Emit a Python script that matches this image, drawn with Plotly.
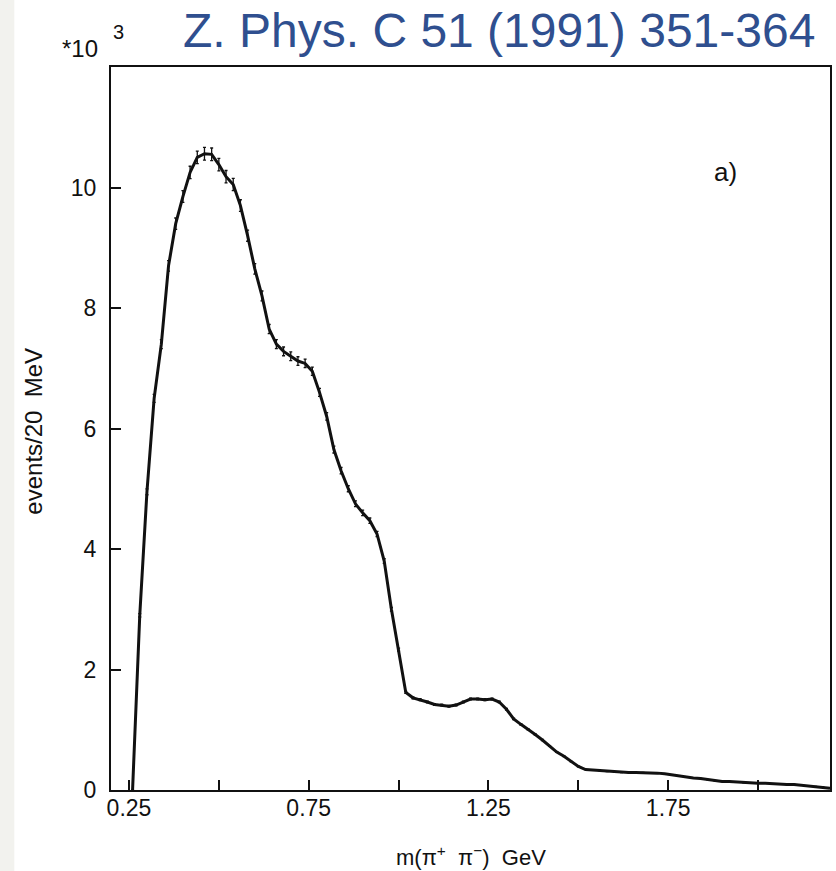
import plotly.graph_objects as go

# bin centres (GeV), 20 MeV bins
masa = [0.26, 0.28, 0.30, 0.32, 0.34, 0.36, 0.38, 0.40, 0.42, 0.44,
        0.46, 0.48, 0.50, 0.52, 0.54, 0.56, 0.58, 0.60, 0.62, 0.64,
        0.66, 0.68, 0.70, 0.72, 0.74, 0.76, 0.78, 0.80, 0.82, 0.84,
        0.86, 0.88, 0.90, 0.92, 0.94, 0.96, 0.98, 1.00, 1.02, 1.04,
        1.06, 1.08, 1.10, 1.12, 1.14, 1.16, 1.18, 1.20, 1.22, 1.24,
        1.26, 1.28, 1.30, 1.32, 1.34, 1.36, 1.38, 1.40, 1.42, 1.44,
        1.46, 1.48, 1.50, 1.52, 1.54, 1.56, 1.58, 1.60, 1.62, 1.64,
        1.66, 1.68, 1.70, 1.72, 1.74, 1.76, 1.78, 1.80, 1.82, 1.84,
        1.86, 1.88, 1.90, 1.92, 1.94, 1.96, 1.98, 2.00, 2.02, 2.04,
        2.06, 2.08, 2.10, 2.12, 2.14, 2.16, 2.18, 2.20]

# events / 20 MeV  (x 10^3)
eventos = [0.00, 2.90, 4.95, 6.50, 7.40, 8.70, 9.40, 9.85, 10.25, 10.50,
           10.56, 10.55, 10.38, 10.18, 10.05, 9.70, 9.20, 8.65, 8.20, 7.65,
           7.40, 7.28, 7.20, 7.12, 7.08, 6.95, 6.60, 6.20, 5.65, 5.30,
           5.00, 4.75, 4.60, 4.47, 4.25, 3.80, 3.00, 2.33, 1.62, 1.53,
           1.50, 1.46, 1.42, 1.41, 1.39, 1.41, 1.46, 1.51, 1.51, 1.50,
           1.51, 1.46, 1.34, 1.18, 1.09, 1.01, 0.92, 0.83, 0.73, 0.63,
           0.56, 0.47, 0.39, 0.34, 0.33, 0.32, 0.31, 0.30, 0.29, 0.29,
           0.29, 0.29, 0.28, 0.28, 0.27, 0.25, 0.23, 0.22, 0.20, 0.19,
           0.17, 0.15, 0.14, 0.14, 0.13, 0.12, 0.12, 0.11, 0.11, 0.10,
           0.10, 0.09, 0.09, 0.08, 0.07, 0.06, 0.05, 0.03]

x_ticks = [0.25, 0.75, 1.25, 1.75]
x_labels = ['0.25', '0.75', '1.25', '1.75']
x_minor = [0.5, 1.0, 1.5, 2.0]
y_ticks = [0, 2, 4, 6, 8, 10]

fuente = 'Liberation Sans, Arial, sans-serif'
negro = '#111111'

fig = go.Figure()

fig.add_trace(go.Scatter(
    x=masa, y=eventos,
    mode='lines',
    line=dict(color=negro, width=3),
    error_y=dict(type='percent', value=1.0, color=negro, thickness=1.3, width=1.5),
    showlegend=False,
))

fig.update_layout(
    width=836, height=871,
    margin=dict(l=111, r=4, t=67, b=81),
    paper_bgcolor='white',
    plot_bgcolor='white',
    font=dict(family=fuente, color=negro),
)

fig.update_xaxes(
    range=[0.2, 2.2],
    tickvals=x_ticks, ticktext=x_labels,
    ticks='inside', ticklen=10, tickwidth=2, tickcolor=negro,
    minor=dict(tickvals=x_minor, ticks='inside', ticklen=10, tickwidth=2,
               tickcolor=negro, showgrid=False),
    showline=True, linewidth=2, linecolor=negro, mirror=True,
    showgrid=False, zeroline=False,
    tickfont=dict(size=23, color=negro),
    ticklabelstandoff=-4,
)
fig.update_yaxes(
    range=[0, 12],
    tickvals=y_ticks,
    ticks='inside', ticklen=10, tickwidth=2, tickcolor=negro,
    showline=True, linewidth=2, linecolor=negro, mirror=True,
    showgrid=False, zeroline=False,
    tickfont=dict(size=23, color=negro),
    ticklabelstandoff=8,
)

# franja gris del borde izquierdo
fig.add_shape(type='rect', xref='paper', yref='paper',
              x0=-0.16, x1=-0.1345, y0=-0.2, y1=1.2,
              fillcolor='#f2f2ee', line_width=0, layer='below')

anot = [
    dict(text='Z. Phys. C 51 (1991) 351-364', x=0.54, y=1.051,
         font=dict(size=48, color='#2f4f8f')),
    dict(text='*10', x=-0.043, y=1.026, font=dict(size=24)),
    dict(text='3', x=0.01, y=1.048, font=dict(size=20)),
    dict(text='a)', x=0.854, y=0.855, font=dict(size=26)),
    dict(text='m(π<sup>+</sup>  π<sup>−</sup>)  GeV', x=0.5, y=-0.091,
         font=dict(size=22)),
    dict(text='events/20  MeV', x=-0.109, y=0.4965, textangle=-90,
         font=dict(size=24)),
]
for a in anot:
    fig.add_annotation(xref='paper', yref='paper', showarrow=False,
                       xanchor='center', yanchor='middle', **a)

fig.write_html('out.html', config={'displayModeBar': False},
               post_script="document.body.style.margin='0';")
